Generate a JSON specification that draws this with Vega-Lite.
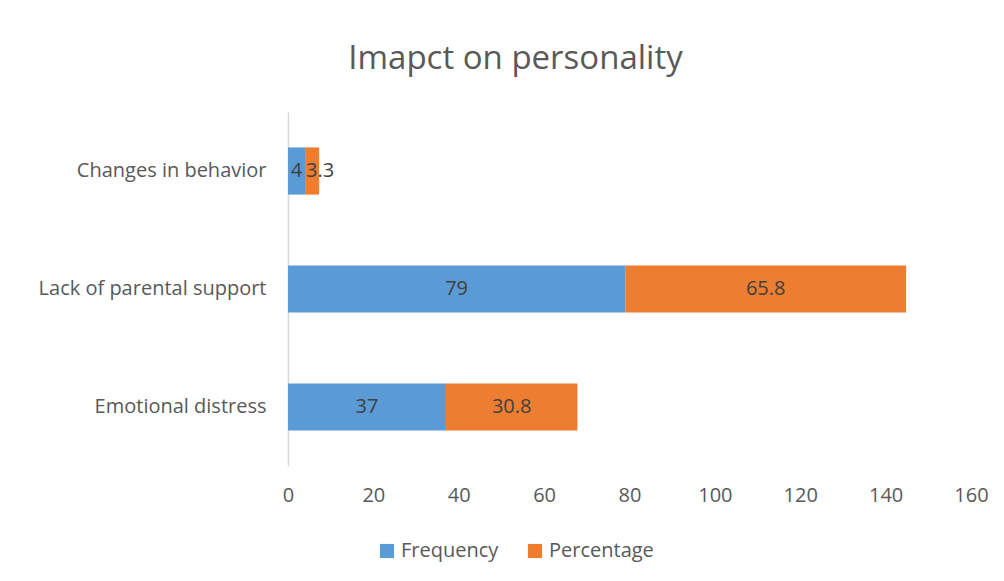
{
  "$schema": "https://vega.github.io/schema/vega-lite/v6.json",
  "autosize": "none",
  "width": 683,
  "height": 354,
  "padding": {"left": 288, "top": 112, "right": 33, "bottom": 115},
  "background": "white",
  "title": {
    "text": "Imapct on personality",
    "fontSize": 33,
    "font": "Open Sans",
    "fontWeight": "normal",
    "color": "#595959",
    "anchor": "middle",
    "frame": "group",
    "dx": -114,
    "offset": 36
  },
  "data": {
    "values": [
      {"category": "Changes in behavior", "series": "Frequency", "value": 4, "ord": 1},
      {"category": "Changes in behavior", "series": "Percentage", "value": 3.3, "ord": 2},
      {"category": "Lack of parental support", "series": "Frequency", "value": 79, "ord": 1},
      {"category": "Lack of parental support", "series": "Percentage", "value": 65.8, "ord": 2},
      {"category": "Emotional distress", "series": "Frequency", "value": 37, "ord": 1},
      {"category": "Emotional distress", "series": "Percentage", "value": 30.8, "ord": 2}
    ]
  },
  "transform": [
    {"stack": "value", "groupby": ["category"], "sort": [{"field": "ord", "order": "ascending"}], "as": ["x0", "x1"]},
    {"calculate": "(datum.x0 + datum.x1) / 2", "as": "xmid"}
  ],
  "encoding": {
    "y": {
      "field": "category",
      "type": "nominal",
      "sort": ["Changes in behavior", "Lack of parental support", "Emotional distress"],
      "scale": {"paddingInner": 0.6, "paddingOuter": 0.3},
      "axis": {
        "title": null,
        "ticks": false,
        "domain": true,
        "domainColor": "#d9d9d9",
        "domainWidth": 1.5,
        "labelFont": "Open Sans",
        "labelFontSize": 20,
        "labelColor": "#595959",
        "labelPadding": 22,
        "labelLimit": 400
      }
    }
  },
  "layer": [
    {
      "mark": {"type": "bar"},
      "encoding": {
        "x": {
          "field": "x0",
          "type": "quantitative",
          "scale": {"domain": [0, 160]},
          "axis": {
            "title": null,
            "values": [0, 20, 40, 60, 80, 100, 120, 140, 160],
            "grid": false,
            "ticks": false,
            "domain": false,
            "labelFlush": false,
            "labelFont": "Open Sans",
            "labelFontSize": 20,
            "labelColor": "#595959",
            "labelPadding": 19
          }
        },
        "x2": {"field": "x1"},
        "color": {
          "field": "series",
          "type": "nominal",
          "scale": {"domain": ["Frequency", "Percentage"], "range": ["#5B9BD5", "#ED7D31"]},
          "legend": {
            "title": null,
            "orient": "none",
            "direction": "horizontal",
            "legendX": 89,
            "legendY": 429,
            "symbolType": "square",
            "symbolSize": 200,
            "symbolStrokeWidth": 0,
            "labelFont": "Open Sans",
            "labelFontSize": 20,
            "labelColor": "#595959",
            "columnPadding": 26,
            "labelOffset": 4
          }
        }
      }
    },
    {
      "transform": [{"filter": "datum.value >= 4"}],
      "mark": {"type": "text", "font": "Open Sans", "fontSize": 20, "color": "#404040", "align": "center", "baseline": "middle"},
      "encoding": {
        "x": {"field": "xmid", "type": "quantitative"},
        "text": {"field": "value", "type": "quantitative"}
      }
    },
    {
      "transform": [{"filter": "datum.value < 4"}],
      "mark": {"type": "text", "font": "Open Sans", "fontSize": 20, "color": "#404040", "align": "left", "baseline": "middle", "dx": 1},
      "encoding": {
        "x": {"field": "x0", "type": "quantitative"},
        "text": {"field": "value", "type": "quantitative"}
      }
    }
  ],
  "config": {"view": {"stroke": null}}
}
